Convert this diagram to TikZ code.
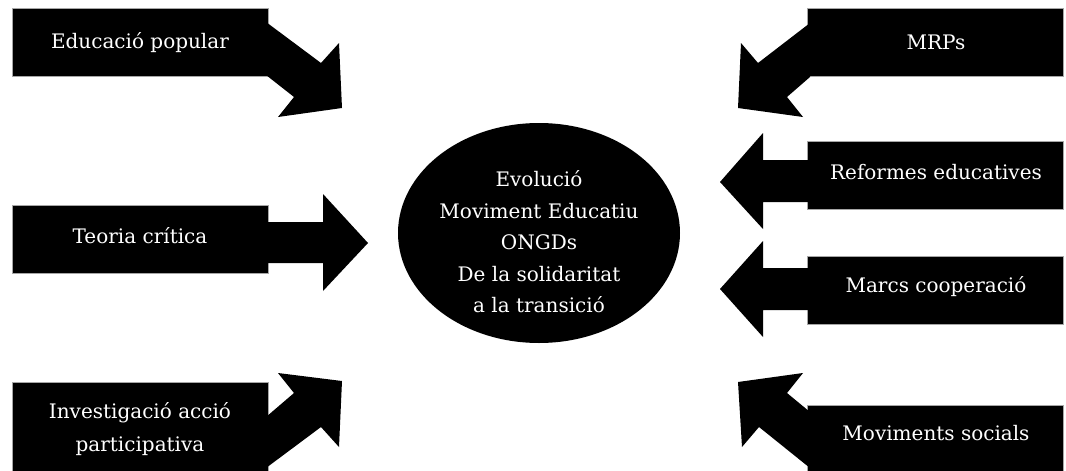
\documentclass[tikz,border=0pt]{standalone}
\usepackage{fontspec}
\setmainfont{DejaVu Serif}
\usetikzlibrary{shapes.geometric}
\begin{document}
\begin{tikzpicture}[x=1pt,y=-1pt,
  boxshape/.style={fill=black,draw=gray!70,line width=0.6pt,inner sep=0pt,minimum width=256pt},
  arrowshape/.style={fill=black,draw=none},
  lbl/.style={text=white,align=center,inner sep=0pt,font=\fontsize{20}{33}\selectfont},
  hub/.style={ellipse,fill=black,minimum width=282pt,minimum height=220pt,inner sep=0pt},
  hubtext/.style={text=white,align=center,inner sep=0pt,font=\fontsize{20}{31.5}\selectfont}]
\clip (0,0) rectangle (1066,471);
\fill[white] (0,0) rectangle (1066,471);
% left boxes
\node[boxshape,minimum height=68pt] (b1) at (140,42) {};
\node[boxshape,minimum height=68pt] (b2) at (140,239) {};
\node[boxshape,minimum height=94pt] (b3) at (140,429) {};
% right boxes
\node[boxshape,minimum height=68pt] (b4) at (935.5,42) {};
\node[boxshape,minimum height=68pt] (b5) at (935.5,175) {};
\node[boxshape,minimum height=68pt] (b6) at (935.5,290) {};
\node[boxshape,minimum height=70pt] (b7) at (935.5,440) {};
% arrow parts
\fill[arrowshape] (266,22) -- (321,63) -- (339,43) -- (342,108) -- (278,117) -- (294,97) -- (266,75) -- cycle;
\fill[arrowshape] (266,222) -- (323,222) -- (323,194) -- (368,243) -- (323,291) -- (323,263) -- (266,263) -- cycle;
\fill[arrowshape] (266,468) -- (321,427) -- (339,447) -- (342,381) -- (278,373) -- (294,393) -- (266,417) -- cycle;
\fill[arrowshape] (810,23) -- (758,63) -- (741,43) -- (738,108) -- (803,117) -- (787,97) -- (810,77) -- cycle;
\fill[arrowshape] (810,160) -- (763,160) -- (763,133) -- (720,182) -- (763,229) -- (763,202) -- (810,202) -- cycle;
\fill[arrowshape] (810,268) -- (763,268) -- (763,241) -- (720,289) -- (763,337) -- (763,310) -- (810,310) -- cycle;
\fill[arrowshape] (810,412) -- (787,393) -- (803,373) -- (738,382) -- (742,447) -- (759,427) -- (810,468) -- cycle;
% labels
\node[lbl] (t1) at (140,43) {Educació popular};
\node[lbl] (t2) at (140,236) {Teoria crítica};
\node[lbl] (t3) at (140,429) {Investigació acció\\participativa};
\node[lbl] (t4) at (936,42) {MRPs};
\node[lbl] (t5) at (936,172) {Reformes educatives};
\node[lbl] (t6) at (936,287) {Marcs cooperació};
\node[lbl] (t7) at (936,433) {Moviments socials};
% hub
\node[hub] (hub) at (539,233) {};
\node[hubtext] (hubtxt) at (539,242) {Evolució\\Moviment Educatiu\\ONGDs\\De la solidaritat\\a la transició};
\end{tikzpicture}
\end{document}
